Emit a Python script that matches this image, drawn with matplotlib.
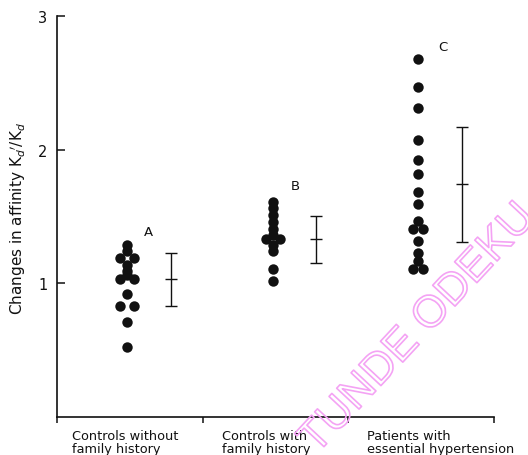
import matplotlib
matplotlib.use("Agg")
import matplotlib.pyplot as plt
import matplotlib.patheffects as pe

# ---- data ----
groups = ["A", "B", "C"]
categories = ["Controls without\nfamily history",
              "Controls with\nfamily history",
              "Patients with\nessential hypertension"]

a_values = [1.29, 1.24, 1.19, 1.19, 1.14, 1.09, 1.06, 1.03, 1.03, 0.92, 0.83, 0.83, 0.71, 0.52]
a_sides  = [0, 0, -1, 1, 0, 0, 0, -1, 1, 0, -1, 1, 0, 0]

b_values = [1.61, 1.56, 1.51, 1.46, 1.41, 1.36, 1.33, 1.33, 1.29, 1.24, 1.105, 1.02]
b_sides  = [0, 0, 0, 0, 0, 0, -1, 1, 0, 0, 0, 0]

c_values = [2.68, 2.47, 2.31, 2.07, 1.92, 1.82, 1.68, 1.59, 1.47, 1.41, 1.41, 1.32, 1.23, 1.17, 1.11, 1.11]
c_sides  = [0, 0, 0, 0, 0, 0, 0, 0, 0, -0.7, 0.7, 0, 0, 0, -0.7, 0.7]

means = [1.03, 1.33, 1.74]
sds   = [0.20, 0.175, 0.43]
letter_y = [1.39, 1.73, 2.77]

yticks = [1, 2, 3]

# ---- styling constants ----
DOT_X = 0.48
ERR_X = 0.78
SIDE = 0.048
ink = "#111111"

fig = plt.figure(figsize=(5.28, 4.56), dpi=100)
ax = fig.add_axes([57/528, 1 - 418/456, (494-57)/528, (418-17)/456])

all_vals = [a_values, b_values, c_values]
all_sides = [a_sides, b_sides, c_sides]
for i, (vals, sides) in enumerate(zip(all_vals, all_sides)):
    xs = [i + DOT_X + s * SIDE for s in sides]
    ax.plot(xs, vals, "o", color=ink, markersize=7.5, markeredgewidth=0, clip_on=False)
    ax.errorbar([i + ERR_X], [means[i]], yerr=[sds[i]], fmt="_", color=ink,
                markersize=8, elinewidth=1.0, capsize=4.3, capthick=1.0, mew=1.0)
    ax.text(i + 0.625 + (0.01 if i == 1 else 0) + (0.025 if i == 2 else 0), letter_y[i], groups[i],
            fontsize=9.5, color=ink, ha="center", va="center")

ax.set_xlim(0, 3)
ax.set_ylim(0, 3)
ax.spines["top"].set_visible(False)
ax.spines["right"].set_visible(False)
for s in ("left", "bottom"):
    ax.spines[s].set_linewidth(1.2)
    ax.spines[s].set_color(ink)

ax.set_yticks(yticks)
ax.set_yticklabels([str(t) for t in yticks])
ax.tick_params(axis="y", direction="in", length=5.5, width=1.1, pad=7,
               labelsize=10.5, colors=ink)
ax.set_xticks([0, 1, 2, 3])
ax.set_xticklabels([])
ax.tick_params(axis="x", direction="out", length=4.5, width=1.1, colors=ink)

for i, lab in enumerate(categories):
    ax.text(i + 0.10 + (0.03 if i > 0 else 0), -0.03, lab, transform=ax.get_xaxis_transform(),
            ha="left", va="top", fontsize=9.3, linespacing=1.0, color=ink)

fig.text(18/528, 1 - 218/456, r"Changes in affinity K$_d$$^{\prime}$/K$_d$",
         rotation=90, ha="center", va="center", fontsize=11, color=ink)

# pink outline watermark present on the reference
fig.text(418/528, 1 - 330/456, "TUNDE ODEKU", rotation=47, ha="center", va="center",
         fontsize=32, family="Liberation Sans", color="none",
         path_effects=[pe.Stroke(linewidth=1.2, foreground="#f4a3f4")])

fig.savefig("out.png", dpi=100)
